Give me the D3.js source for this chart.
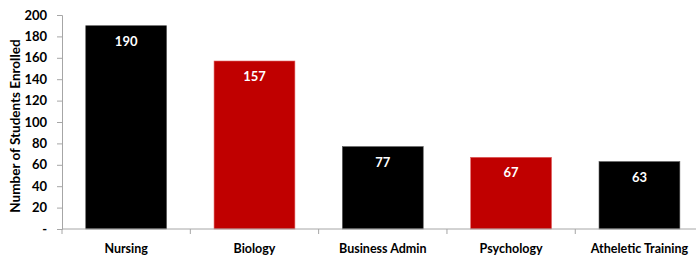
<!DOCTYPE html>
<html>
<head>
<meta charset="utf-8">
<script src="https://cdn.jsdelivr.net/npm/d3@7"></script>
<style>
  body { margin: 0; background: #fff; }
  svg text { font-family: Lato, "Open Sans", sans-serif; font-weight: bold; }
</style>
</head>
<body>
<div id="chart"></div>
<script>
// data
var majors = ["Nursing", "Biology", "Business Admin", "Psychology", "Atheletic Training"];
var enrolled = [190, 157, 77, 67, 63];
var barColors = ["#000000", "#c00000", "#000000", "#c00000", "#000000"];
var yTicks = [0, 20, 40, 60, 80, 100, 120, 140, 160, 180, 200];

var width = 696, height = 259;
var plotLeft = 62, plotRight = 703.6, plotTop = 15, plotBottom = 229;

var svg = d3.select("#chart")
    .append("svg")
    .attr("width", width)
    .attr("height", height);

var x = d3.scaleBand()
    .domain(majors)
    .range([plotLeft, plotRight])
    .paddingInner(0.37)
    .paddingOuter(0.185);

var y = d3.scaleLinear()
    .domain([0, 200])
    .range([plotBottom, plotTop]);

// bars
svg.selectAll("rect.bar")
    .data(majors)
    .enter()
    .append("rect")
    .attr("class", "bar")
    .attr("x", function (d) { return x(d); })
    .attr("y", function (d, i) { return y(enrolled[i]); })
    .attr("width", x.bandwidth())
    .attr("height", function (d, i) { return y(0) - y(enrolled[i]); })
    .attr("fill", function (d, i) { return barColors[i]; })
    .attr("stroke", function (d, i) { return barColors[i] === "#000000" ? "#555" : "#e06060"; })
    .attr("stroke-width", 0.6);

// value labels inside the bars
svg.selectAll("text.val")
    .data(majors)
    .enter()
    .append("text")
    .attr("class", "val")
    .attr("x", function (d) { return x(d) + x.bandwidth() / 2; })
    .attr("y", function (d, i) { return y(enrolled[i]) + 20; })
    .attr("text-anchor", "middle")
    .attr("fill", "#fff")
    .style("font-size", "13px")
    .text(function (d, i) { return enrolled[i]; });

// y axis
var yAxis = svg.append("g")
    .attr("transform", "translate(" + plotLeft + ",0)")
    .call(d3.axisLeft(y)
        .tickValues(yTicks)
        .tickSize(5)
        .tickPadding(10)
        .tickFormat(function (d) { return d === 0 ? "-" : d; }));
yAxis.select(".domain").attr("stroke", "#a6a6a6");
yAxis.selectAll(".tick line").attr("stroke", "#a6a6a6");
yAxis.selectAll(".tick text")
    .attr("fill", "#000")
    .style("font-size", "13px")
    .style("font-family", "Lato, sans-serif");

// x axis
var xAxis = svg.append("g")
    .attr("transform", "translate(0," + plotBottom + ")");
xAxis.append("line")
    .attr("x1", plotLeft).attr("x2", width)
    .attr("y1", 0).attr("y2", 0)
    .attr("stroke", "#a6a6a6");
var bounds = majors.map(function (d) { return x(d) - x.step() * x.paddingInner() / 2; });
bounds.push(plotRight);
xAxis.selectAll("line.tk")
    .data(bounds)
    .enter()
    .append("line")
    .attr("class", "tk")
    .attr("x1", function (d) { return d; })
    .attr("x2", function (d) { return d; })
    .attr("y1", 0).attr("y2", 5)
    .attr("stroke", "#a6a6a6");
xAxis.selectAll("text")
    .data(majors)
    .enter()
    .append("text")
    .attr("x", function (d) { return x(d) + x.bandwidth() / 2; })
    .attr("y", 24)
    .attr("text-anchor", "middle")
    .attr("fill", "#000")
    .style("font-size", "12.5px")
    .text(function (d) { return d; });

// y axis title
svg.append("text")
    .attr("transform", "translate(20," + ((plotTop + plotBottom) / 2 + 4) + ") rotate(-90)")
    .attr("text-anchor", "middle")
    .attr("fill", "#000")
    .style("font-size", "13.5px")
    .text("Number of Students Enrolled");
</script>
</body>
</html>
